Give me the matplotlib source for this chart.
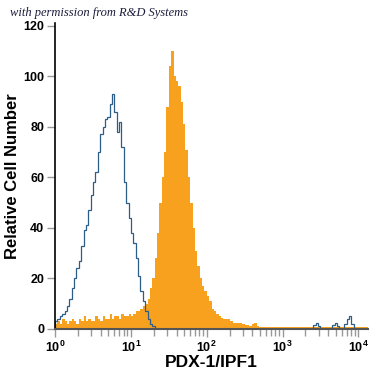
import numpy as np
import matplotlib
matplotlib.use("Agg")
import matplotlib.pyplot as plt
from matplotlib.ticker import LogLocator, NullFormatter

# -------------------------------------------------------------------------
# Datos (histogramas por canal, 32 canales por década, 10^0 .. 10^4.125)
# -------------------------------------------------------------------------
canales_por_decada = 32
n_canales = 132

# Control de isotipo (línea azul)
isotipo = [
    3, 4, 5, 6, 7, 9, 12, 16, 20, 24, 27, 33, 39, 41, 47, 53, 58, 62, 70, 77,
    80, 83, 84, 89, 93, 86, 78, 82, 72, 58, 50, 44, 38, 34, 28, 21, 15, 11, 7, 4,
    2, 1,
    0, 0, 0, 0, 0, 0, 0, 0, 0, 0, 0, 0, 0, 0, 0, 0, 0, 0, 0, 0,
    0, 0, 0, 0, 0, 0, 0, 0, 0, 0, 0, 0, 0, 0, 0, 0, 0, 0, 0, 0,
    0, 0, 0, 0, 0, 0, 0, 0, 0, 0, 0, 0, 0, 0, 0, 0, 0, 0, 0, 0,
    0, 0, 0, 0, 0, 0, 0,
    1.5, 2.5, 1, 0, 0, 0, 0, 0, 1.5, 2.5, 1, 0, 0, 2, 4, 5, 2,
    0, 0, 0, 0, 0, 0,
]

# PDX-1/IPF1 (relleno naranja)
pdx1 = [
    2, 3, 2, 4, 3, 2, 3, 4, 3, 2, 4, 3, 5, 3, 4, 3, 3, 5, 4, 3,
    5, 4, 4, 6, 4, 5, 5, 4, 6, 5, 5, 6, 5, 6, 7, 7, 8, 9, 10, 12,
    16, 20, 28, 38, 50, 60, 70, 88, 104, 110, 100, 98, 96, 90, 81, 71, 60, 50, 40, 31,
    25, 20, 17, 15, 13, 11, 8, 7, 6, 5, 4.5, 4, 4, 4, 3, 2.5, 2.5, 2.5, 2.5, 2,
    1.5, 1.5, 1.2, 2, 2.5, 1, 0.8, 0.7, 0.8, 0.6, 0.7, 0.8, 0.7, 0.6, 0.7, 0.7, 0.8, 0.6, 0.7, 0.7,
    0.6, 0.7, 0.8, 0.7, 0.6, 0.7, 0.7, 0.6, 0.7, 0.8, 0.7, 0.6, 0.7, 0.7, 0.6, 0.7, 0.8, 0.7, 0.6, 0.7,
    0.7, 0.6, 0.7, 0.8, 0.7, 0.6, 0.7, 0.7, 0.6, 0.7, 0.6, 0.6,
]

bordes = 10 ** (np.arange(n_canales + 1) / canales_por_decada)

y_ticks = [0, 20, 40, 60, 80, 100, 120]
x_ticks = [1, 10, 100, 1000, 10000]
x_labels = [r"$\mathbf{10^{0}}$", r"$\mathbf{10^{1}}$", r"$\mathbf{10^{2}}$",
            r"$\mathbf{10^{3}}$", r"$\mathbf{10^{4}}$"]

# -------------------------------------------------------------------------
# Estilo
# -------------------------------------------------------------------------
plt.rcParams["font.family"] = ["Liberation Sans", "DejaVu Sans"]
plt.rcParams["mathtext.fontset"] = "custom"
plt.rcParams["mathtext.rm"] = "Liberation Sans"
plt.rcParams["mathtext.bf"] = "Liberation Sans:bold"

fig = plt.figure(figsize=(3.75, 3.75), dpi=100)
ax = fig.add_axes([0.147, 0.123, 0.834, 0.815])

ax.stairs(pdx1, bordes, fill=True, color="#f7a11f", linewidth=0)
ax.stairs(isotipo, bordes, fill=False, color="#2b5d86", linewidth=0.9)

ax.set_xscale("log")
ax.set_xlim(bordes[0], bordes[-1])
ax.set_ylim(0, 121)

ax.set_yticks(y_ticks)
ax.set_yticklabels([str(v) for v in y_ticks], fontweight="bold", fontsize=9)
ax.set_xticks(x_ticks)
ax.set_xticklabels(x_labels, fontsize=9)
ax.xaxis.set_minor_locator(LogLocator(base=10, subs=np.arange(2, 10)))
ax.xaxis.set_minor_formatter(NullFormatter())

ax.tick_params(axis="y", length=6, width=1, color="#999999", pad=2)
ax.tick_params(axis="x", which="major", length=6, width=1, color="#999999", pad=2)
ax.tick_params(axis="x", which="minor", length=5, width=1, color="#999999")

for s in ["top", "right"]:
    ax.spines[s].set_visible(False)
ax.spines["left"].set_color("black")
ax.spines["left"].set_linewidth(1.2)
ax.spines["bottom"].set_color("#555555")
ax.spines["bottom"].set_linewidth(1.5)

ax.set_ylabel("Relative Cell Number", fontsize=12, fontweight="bold", labelpad=2)
ax.set_xlabel("PDX-1/IPF1", fontsize=12.5, fontweight="bold", labelpad=0)

fig.text(0.027, 0.958, "with permission from R&D Systems", fontsize=9,
         style="italic", family="Liberation Serif", color="#1c1c3c")

fig.savefig("out.png", dpi=100)
